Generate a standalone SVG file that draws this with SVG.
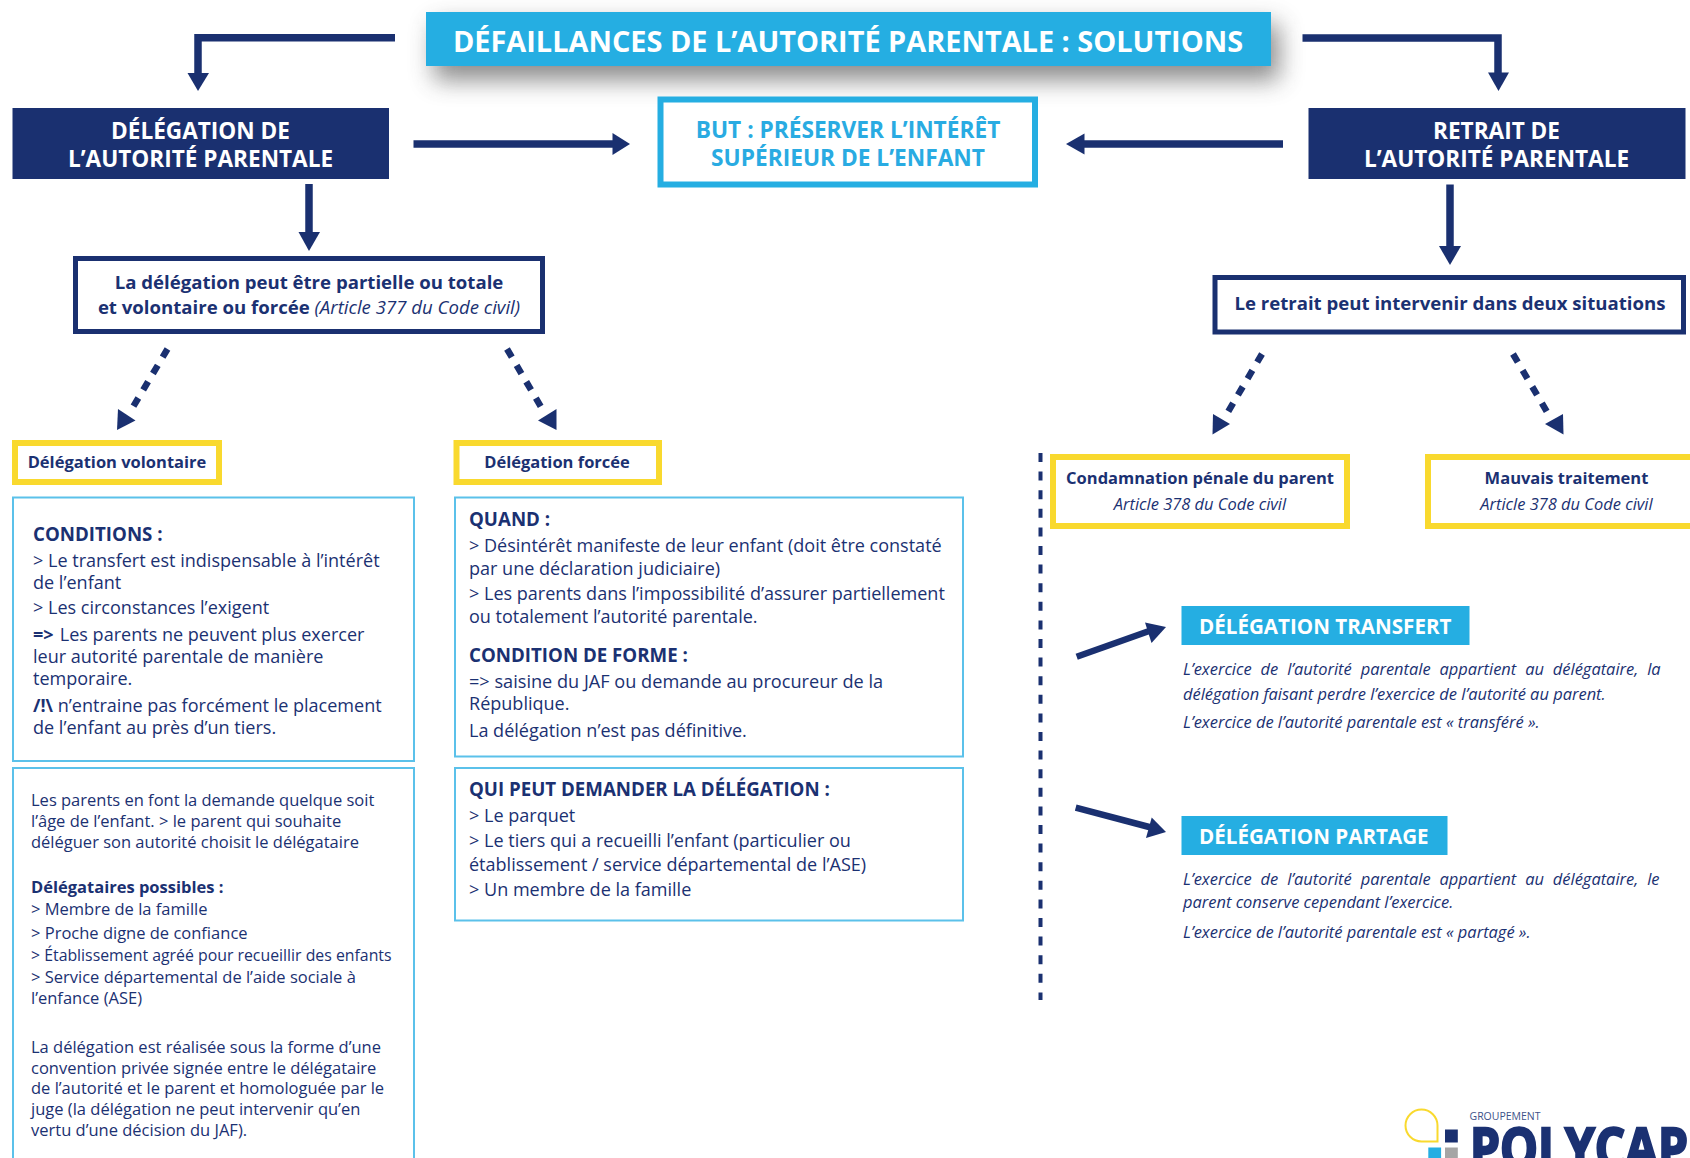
<svg xmlns="http://www.w3.org/2000/svg" width="1690" height="1158" viewBox="0 0 1690 1158">
<style>
text{font-family:"Open Sans","Noto Sans","DejaVu Sans",sans-serif;fill:#1b3172}
.c{text-anchor:middle}
.w{fill:#fff;font-weight:700}
.h1{font-size:22.6px}
.b{font-weight:700}
.s1{font-size:18.6px;font-weight:700}
.s2{font-size:16.5px;font-weight:700}
.t{font-size:18.05px}
.th{font-size:18.7px;font-weight:700}
.t2{font-size:16.5px}
.i{font-size:16.45px;font-style:italic}
.navy{fill:#1a3070}
.lb{fill:#fff;stroke:#5bc1ea;stroke-width:2}
.yb{fill:#fff;stroke:#f9d92e;stroke-width:6}
.nb{fill:#fff;stroke:#1a3070;stroke-width:5}
.ln{fill:none;stroke:#1a3070;stroke-width:7.5}
.ds{fill:none;stroke:#1a3070;stroke-width:6.5;stroke-dasharray:9.5 9.5}
.sl{fill:none;stroke:#1a3070;stroke-width:6.5}
</style>
<defs>
<filter id="sh" x="-10%" y="-100%" width="120%" height="320%"><feGaussianBlur stdDeviation="12"/></filter>
</defs>
<rect width="1690" height="1158" fill="#fff"/>
<g id="connectors">
<path class="ln" d="M395 37.8H198V74"/><path class="navy" d="M187.500 73H209L198 91z"/>
<path class="ln" d="M1302.500 38H1498V74"/><path class="navy" d="M1488 72.500H1509L1498.500 91z"/>
<path class="ln" d="M413.500 144H614"/><path class="navy" d="M612.500 133L630 144L612.500 155z"/>
<path class="ln" d="M1283 144H1083"/><path class="navy" d="M1084.500 133.500L1066 144L1084.500 154.500z"/>
<path class="ln" d="M309 184V234"/><path class="navy" d="M298.500 232H320L309 251z"/>
<path class="ln" d="M1450 184.500V248"/><path class="navy" d="M1439 246H1461L1450 265z"/>
<path class="ds" d="M167.500 349L130 412"/><path class="navy" d="M118 409L135.500 420.500L117 430z"/>
<path class="ds" d="M507 349L544 412"/><path class="navy" d="M556.500 409L538 420.500L556.500 430z"/>
<path class="ds" d="M1262 354L1225 417"/><path class="navy" d="M1213 414L1230 424L1212.500 434.500z"/>
<path class="ds" d="M1513 354L1550 417"/><path class="navy" d="M1563 414L1545 424L1563.500 434.500z"/>
<path d="M1040.500 453V1000" fill="none" stroke="#1a3070" stroke-width="4" stroke-dasharray="9 9.600"/>
<path class="sl" d="M1076.700 656.700L1152 630"/><path class="navy" d="M1145 622.500L1166 627L1151.500 643z"/>
<path class="sl" d="M1075.700 807.700L1153 828"/><path class="navy" d="M1151.700 817.500L1166 832L1146 838z"/>
</g>
<g id="title">
<rect x="434" y="24" width="845" height="56" fill="#444" opacity=".62" filter="url(#sh)"/>
<rect x="426" y="12" width="845" height="54" fill="#25aee2"/>
<text class="c w" x="848" y="52" font-size="28.900">DÉFAILLANCES DE L’AUTORITÉ PARENTALE : SOLUTIONS</text>
</g>
<g id="delegation">
<rect class="navy" x="12.500" y="108" width="376.500" height="71"/>
<text class="c w h1" x="200.500" y="138.500">DÉLÉGATION DE</text>
<text class="c w h1" x="200.500" y="166.500">L’AUTORITÉ PARENTALE</text>
</g>
<g id="but">
<rect x="660.500" y="99.500" width="374.500" height="85" fill="#fff" stroke="#25aee2" stroke-width="6"/>
<text class="c b" x="848" y="137.500" font-size="22.700" style="fill:#29abe2">BUT : PRÉSERVER L’INTÉRÊT</text>
<text class="c b" x="848" y="165.500" font-size="22.700" style="fill:#29abe2">SUPÉRIEUR DE L’ENFANT</text>
</g>
<g id="retrait">
<rect class="navy" x="1308.500" y="108" width="377" height="71"/>
<text class="c w h1" x="1496.500" y="139">RETRAIT DE</text>
<text class="c w h1" x="1496.500" y="167">L’AUTORITÉ PARENTALE</text>
</g>
<g id="delegation-statement">
<rect class="nb" x="75.500" y="258.500" width="467" height="73"/>
<text class="c s1" x="309" y="289">La délégation peut être partielle ou totale</text>
<text class="c" x="309" y="314" font-size="18.600"><tspan class="b">et volontaire ou forcée </tspan><tspan font-style="italic">(Article 377 du Code civil)</tspan></text>
</g>
<g id="retrait-statement">
<rect class="nb" x="1215" y="277.500" width="468.500" height="54.500"/>
<text class="c s1" x="1450" y="310">Le retrait peut intervenir dans deux situations</text>
</g>
<g id="volontaire">
<rect class="yb" x="15" y="443" width="204" height="39"/>
<text class="c s2" x="117" y="468">Délégation volontaire</text>
</g>
<g id="forcee">
<rect class="yb" x="456.500" y="443" width="202.500" height="39"/>
<text class="c s2" x="557" y="468">Délégation forcée</text>
</g>
<g id="condamnation">
<rect class="yb" x="1053" y="457" width="294" height="69"/>
<text class="c s2" x="1200" y="483.500">Condamnation pénale du parent</text>
<text class="c i" x="1200" y="509.500">Article 378 du Code civil</text>
</g>
<g id="mauvais">
<rect class="yb" x="1428" y="457" width="270" height="69"/>
<text class="c s2" x="1566.500" y="483.500">Mauvais traitement</text>
<text class="c i" x="1566.500" y="509.500">Article 378 du Code civil</text>
</g>
<g id="conditions">
<rect class="lb" x="13" y="497.500" width="401" height="263.500"/>
<text class="th" x="33" y="541">CONDITIONS :</text>
<text class="t" x="33" y="567">&gt; Le transfert est indispensable à l’intérêt</text>
<text class="t" x="33" y="589">de l’enfant</text>
<text class="t" x="33" y="614">&gt; Les circonstances l’exigent</text>
<text class="t" x="33" y="640.500"><tspan class="b">=&gt;</tspan><tspan dx="1.500"> Les parents ne peuvent plus exercer</tspan></text>
<text class="t" x="33" y="663">leur autorité parentale de manière</text>
<text class="t" x="33" y="685">temporaire.</text>
<text class="t" x="33" y="711.500"><tspan class="b">/!\</tspan> n’entraine pas forcément le placement</text>
<text class="t" x="33" y="734">de l’enfant au près d’un tiers.</text>
</g>
<g id="delegataires">
<rect class="lb" x="13" y="768" width="401" height="400"/>
<text class="t2" x="31" y="806">Les parents en font la demande quelque soit</text>
<text class="t2" x="31" y="826.500">l’âge de l’enfant. &gt; le parent qui souhaite</text>
<text class="t2" x="31" y="847.500">déléguer son autorité choisit le délégataire</text>
<text class="t2 b" x="31" y="893">Délégataires possibles :</text>
<text class="t2" x="31" y="915">&gt; Membre de la famille</text>
<text class="t2" x="31" y="938.500">&gt; Proche digne de confiance</text>
<text class="t2" x="31" y="961" style="font-size:15.85px">&gt; Établissement agréé pour recueillir des enfants</text>
<text class="t2" x="31" y="983">&gt; Service départemental de l’aide sociale à</text>
<text class="t2" x="31" y="1004">l’enfance (ASE)</text>
<text class="t2" x="31" y="1053">La délégation est réalisée sous la forme d’une</text>
<text class="t2" x="31" y="1073.500">convention privée signée entre le délégataire</text>
<text class="t2" x="31" y="1094">de l’autorité et le parent et homologuée par le</text>
<text class="t2" x="31" y="1115">juge (la délégation ne peut intervenir qu’en</text>
<text class="t2" x="31" y="1135.500">vertu d’une décision du JAF).</text>
</g>
<g id="quand">
<rect class="lb" x="455" y="497.500" width="508" height="259"/>
<text class="th" x="469" y="525.500">QUAND :</text>
<text class="t" x="469" y="552">&gt; Désintérêt manifeste de leur enfant (doit être constaté</text>
<text class="t" x="469" y="574.500">par une déclaration judiciaire)</text>
<text class="t" x="469" y="600">&gt; Les parents dans l’impossibilité d’assurer partiellement</text>
<text class="t" x="469" y="623">ou totalement l’autorité parentale.</text>
<text class="th" x="469" y="662">CONDITION DE FORME :</text>
<text class="t" x="469" y="688" style="font-size:18.15px">=&gt; saisine du JAF ou demande au procureur de la</text>
<text class="t" x="469" y="709.500">République.</text>
<text class="t" x="469" y="737">La délégation n’est pas définitive.</text>
</g>
<g id="qui">
<rect class="lb" x="455" y="768" width="508" height="152.500"/>
<text class="th" x="469" y="796">QUI PEUT DEMANDER LA DÉLÉGATION :</text>
<text class="t" x="469" y="822">&gt; Le parquet</text>
<text class="t" x="469" y="847">&gt; Le tiers qui a recueilli l’enfant (particulier ou</text>
<text class="t" x="469" y="871">établissement / service départemental de l’ASE)</text>
<text class="t" x="469" y="896">&gt; Un membre de la famille</text>
</g>
<g id="transfert">
<rect x="1181.500" y="606" width="288" height="39" fill="#25aee2"/>
<text class="w" x="1199" y="634" font-size="20.600">DÉLÉGATION TRANSFERT</text>
<text class="i" x="1183" y="675" word-spacing="4.640">L’exercice de l’autorité parentale appartient au délégataire, la</text>
<text class="i" x="1183" y="700">délégation faisant perdre l’exercice de l’autorité au parent.</text>
<text class="i" x="1183" y="728">L’exercice de l’autorité parentale est « transféré ».</text>
</g>
<g id="partage">
<rect x="1181.500" y="816" width="266" height="39" fill="#25aee2"/>
<text class="w" x="1199" y="844" font-size="20.600">DÉLÉGATION PARTAGE</text>
<text class="i" x="1183" y="885" word-spacing="4.640">L’exercice de l’autorité parentale appartient au délégataire, le</text>
<text class="i" x="1183" y="908">parent conserve cependant l’exercice.</text>
<text class="i" x="1183" y="938">L’exercice de l’autorité parentale est « partagé ».</text>
</g>
<g id="logo">
<path d="M1421.500 1109.500a16 16 0 0 1 16 16V1141.500H1421.500a16 16 0 0 1 0-32z" fill="none" stroke="#f9d92e" stroke-width="2"/>
<rect x="1445" y="1129.500" width="12.800" height="13" fill="#1a3070"/>
<rect x="1428.300" y="1147.500" width="12.800" height="11" fill="#25aee2"/>
<rect x="1445" y="1147.500" width="12.800" height="11" fill="#a5a5a5"/>
<text x="1469.500" y="1119.500" font-size="10.500" style="fill:#3d5289" textLength="71" lengthAdjust="spacingAndGlyphs">GROUPEMENT</text>
<text x="1470" y="1168" font-size="56" font-weight="700" textLength="218" lengthAdjust="spacingAndGlyphs" stroke="#1b3172" stroke-width="2.500">POLYCAP</text>
</g>
</svg>
